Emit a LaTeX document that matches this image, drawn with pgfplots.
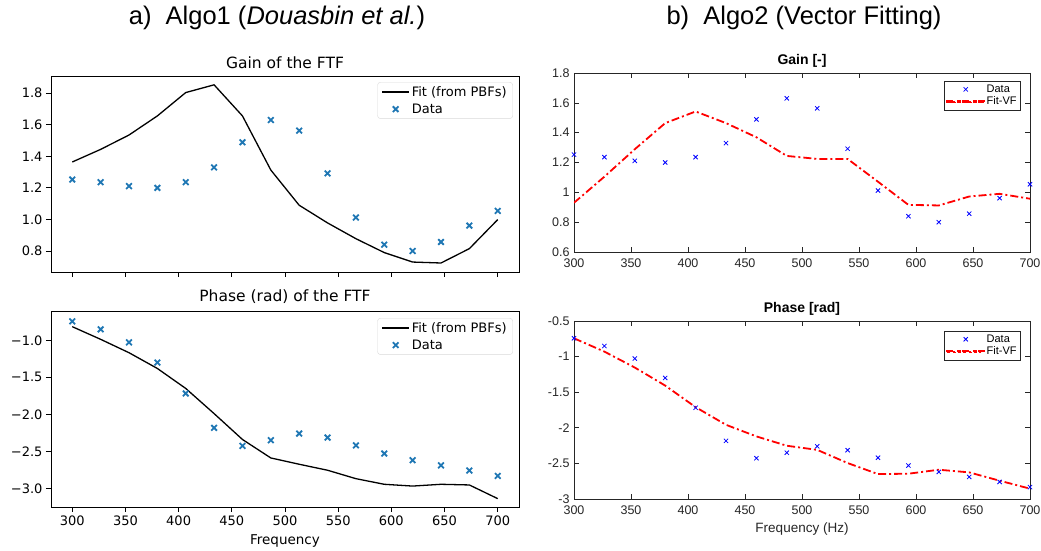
\documentclass[border=0pt]{standalone}
\usepackage{pgfplots}
\pgfplotsset{compat=1.18}
\usepackage{pgfplotstable}
\usepackage{fontspec}
\setmainfont{Liberation Sans}
\newfontfamily\dejavu{DejaVu Sans}
\newfontfamily\arial{Liberation Sans}
\definecolor{mplblue}{HTML}{1F77B4}
\definecolor{mgray}{gray}{0.15}

\pgfplotstableread{
f      gd     pd      gfit   pfit    vg     vp
300    1.253  -0.743  1.364  -0.815  0.930  -0.743
326.67 1.236  -0.851  1.444  -0.986  1.105  -0.930
353.33 1.211  -1.027  1.535  -1.167  1.289  -1.154
380    1.200  -1.300  1.656  -1.380  1.464  -1.407
406.67 1.236  -1.718  1.804  -1.650  1.542  -1.710
433.33 1.330  -2.183  1.853  -1.990  1.464  -1.958
460    1.489  -2.427  1.656  -2.340  1.369  -2.121
486.67 1.630  -2.350  1.313  -2.590  1.244  -2.252
513.33 1.563  -2.260  1.090  -2.675  1.224  -2.310
540    1.292  -2.314  0.978  -2.756  1.224  -2.495
566.67 1.012  -2.420  0.878  -2.870  1.071  -2.650
593.33 0.840  -2.530  0.790  -2.946  0.916  -2.645
620    0.800  -2.620  0.730  -2.970  0.912  -2.589
646.67 0.857  -2.690  0.724  -2.946  0.972  -2.626
673.33 0.961  -2.760  0.815  -2.955  0.990  -2.743
700    1.054  -2.833  0.999  -3.140  0.957  -2.855
}\data

\pgfplotsset{
  leftax/.style={
    scale only axis, anchor=south west, width=468pt, height=196pt,
    xmin=280, xmax=720, xtick={300,350,400,450,500,550,600,650,700},
    tick align=outside, tick pos=left, major tick length=5pt,
    tick style={black, line width=0.8pt},
    axis line style={black, line width=0.8pt},
    ticklabel style={font=\dejavu\fontsize{13}{15}\selectfont},
    title style={font=\dejavu\fontsize{15.5}{18}\selectfont, yshift=-2pt},
    label style={font=\dejavu\fontsize{13.5}{15}\selectfont},
    /pgf/number format/assume math mode=true,
    legend cell align=left,
    legend style={anchor=north east, draw=black!15, rounded corners=3pt,
      font=\dejavu\fontsize{13}{15}\selectfont, inner xsep=4pt, inner ysep=2pt,
      row sep=2pt},
  },
  rightax/.style={
    scale only axis, anchor=south west, width=456pt,
    xmin=300, xmax=700, xtick={300,350,400,450,500,550,600,650,700},
    tick align=inside, tick pos=both, major tick length=5pt,
    tick style={mgray, line width=0.6pt},
    axis line style={mgray, line width=0.6pt},
    ticklabel style={font=\arial\fontsize{12.5}{14}\selectfont, text=mgray},
    xticklabel shift=3pt,
    yticklabel shift=1pt,
    title style={font=\arial\bfseries\fontsize{14}{16}\selectfont, yshift=-4pt},
    /pgf/number format/assume math mode=true,
    legend cell align=left,
    legend style={anchor=north east, draw=mgray, line width=0.6pt,
      font=\arial\fontsize{11}{12}\selectfont, inner xsep=2pt, inner ysep=1.5pt,
      row sep=-1pt},
  },
  leftline/.style={legend image code/.code={\draw[##1] (0pt,0pt) -- (27pt,0pt);}},
  leftmark/.style={legend image code/.code={\draw[##1] plot coordinates {(13.5pt,0pt)};}},
  rightmark/.style={legend image code/.code={\draw[##1] plot coordinates {(19pt,0pt)};}},
  rightline/.style={legend image code/.code={%
    \fill[red] (0pt,-0.9pt) rectangle (8pt,0.9pt);
    \fill[red] (11pt,-0.9pt) rectangle (13pt,0.9pt);
    \fill[red] (16pt,-0.9pt) rectangle (24pt,0.9pt);
    \fill[red] (27pt,-0.9pt) rectangle (29pt,0.9pt);
    \fill[red] (32pt,-0.9pt) rectangle (37pt,0.9pt);}},
}

\begin{document}
\begin{tikzpicture}[x=1pt,y=1pt]
\path[use as bounding box] (0,0) rectangle (1041,551);

\node[font=\arial\fontsize{25.5}{28}\selectfont] at (277,533) {a)\ \ Algo1 (\textit{Douasbin et al.})};
\node[font=\arial\fontsize{25.5}{28}\selectfont] at (804,533) {b)\ \ Algo2 (Vector Fitting)};
\node[font=\arial\fontsize{13.5}{15}\selectfont, text=mgray] at (802,22) {Frequency (Hz)};

% Left top
\begin{axis}[leftax, at={(51pt,279pt)},
  ymin=0.667, ymax=1.909, ytick={0.8,1.0,1.2,1.4,1.6,1.8},
  yticklabels={0.8,1.0,1.2,1.4,1.6,1.8},
  xticklabels={},
  title={Gain of the FTF},
  legend style={at={(0.987,0.969)}}]
\addplot[black, line width=1.3pt, leftline]
  table[x=f, y=gfit] {\data};
\addlegendentry{Fit (from PBFs)}
\addplot[only marks, mark=x, mark size=4pt, color=mplblue, line width=1.8pt, leftmark]
  table[x=f, y=gd] {\data};
\addlegendentry{Data}
\end{axis}

% Left bottom
\begin{axis}[leftax, at={(51pt,44pt)},
  ymin=-3.253, ymax=-0.603, ytick={-3,-2.5,-2,-1.5,-1},
  yticklabels={−3.0,−2.5,−2.0,−1.5,−1.0},
  xlabel={Frequency},
  xlabel style={yshift=-2pt},
  title={Phase (rad) of the FTF},
  legend style={at={(0.987,0.964)}}]
\addplot[black, line width=1.3pt, leftline]
  table[x=f, y=pfit] {\data};
\addlegendentry{Fit (from PBFs)}
\addplot[only marks, mark=x, mark size=4pt, color=mplblue, line width=1.8pt, leftmark]
  table[x=f, y=pd] {\data};
\addlegendentry{Data}
\end{axis}

% Right top
\begin{axis}[rightax, at={(574pt,299pt)}, height=179pt,
  ymin=0.6, ymax=1.8, ytick={0.6,0.8,1,1.2,1.4,1.6,1.8},
  title={Gain [-]},
  legend style={at={(0.980,0.955)}}]
\addplot[only marks, mark=x, mark size=3pt, color=blue, line width=0.8pt, rightmark]
  table[x=f, y=gd] {\data};
\addlegendentry{Data}
\addplot[color=red, line width=1.8pt, dash pattern=on 8pt off 3pt on 2pt off 3pt, rightline]
  table[x=f, y=vg] {\data};
\addlegendentry{Fit-VF}
\end{axis}

% Right bottom
\begin{axis}[rightax, at={(574pt,52pt)}, height=178pt,
  ymin=-3, ymax=-0.5, ytick={-3,-2.5,-2,-1.5,-1,-0.5},
  title={Phase [rad]},
  legend style={at={(0.980,0.944)}}]
\addplot[only marks, mark=x, mark size=3pt, color=blue, line width=0.8pt, rightmark]
  table[x=f, y=pd] {\data};
\addlegendentry{Data}
\addplot[color=red, line width=1.8pt, dash pattern=on 8pt off 3pt on 2pt off 3pt, rightline]
  table[x=f, y=vp] {\data};
\addlegendentry{Fit-VF}
\end{axis}
\end{tikzpicture}
\end{document}
